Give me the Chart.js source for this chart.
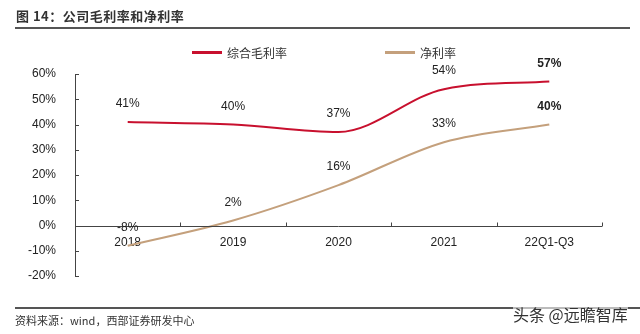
<!DOCTYPE html>
<html>
<head>
<meta charset="utf-8">
<script src="https://cdn.jsdelivr.net/npm/chart.js@4/dist/chart.umd.min.js"></script>
<style>
  body { margin: 0; background: #fff; }
  #wrap { position: relative; width: 640px; height: 334px; overflow: hidden; font-family: "Liberation Sans", Arial, sans-serif; }
  #chart { position: absolute; left: 0; top: 0; }
  .title { position: absolute; left: 16px; top: 6px; font: bold 13px "Noto Sans CJK SC", sans-serif; color: #333; letter-spacing: 0.5px; }
  .rule-top { position: absolute; left: 15px; top: 27px; width: 615px; height: 2px; background: #555; }
  .rule-bottom { position: absolute; left: 15px; top: 307px; width: 625px; height: 2px; background: #555; }
  .legend { position: absolute; top: 44px; font: 12px "Noto Sans CJK SC", sans-serif; color: #333; display: flex; align-items: center; }
  .legend i { display: inline-block; width: 30px; height: 3px; margin-right: 5px; }
  .source { position: absolute; left: 15px; top: 312px; font: 11px "Noto Sans CJK SC", sans-serif; color: #333; }
  .mark { position: absolute; left: 513px; top: 303px; font: 16px "Noto Sans CJK SC", sans-serif; color: #333; background: rgba(255,255,255,0.6); line-height: 22px; }
</style>
</head>
<body>
<div id="wrap">
  <canvas id="chart" width="640" height="334"></canvas>
  <div class="title">图 14：公司毛利率和净利率</div>
  <div class="rule-top"></div>
  <div class="legend" style="left:192px"><i style="background:#c8102e"></i>综合毛利率</div>
  <div class="legend" style="left:385px"><i style="background:#c4a07c"></i>净利率</div>
  <div class="rule-bottom"></div>
  <div class="source">资料来源：wind，西部证券研发中心</div>
  <div class="mark">头条 @远瞻智库</div>
</div>
<script>
// 数据
const categories = ['2018', '2019', '2020', '2021', '22Q1-Q3'];
const grossMargin = [41, 40, 37, 54, 57];
const netMargin = [-8, 2, 16, 33, 40];
const yMin = -20, yMax = 60, yStep = 10;

const RED = '#c8102e';
const TAN = '#c4a07c';

// 坐标轴和刻度线
const axisPlugin = {
    id: 'axes',
    afterDatasetsDraw(chart) {
        const { ctx, chartArea, scales } = chart;
        const x = scales.x, y = scales.y;
        const y0 = y.getPixelForValue(0);
        ctx.save();
        ctx.strokeStyle = '#444';
        ctx.lineWidth = 1;
        ctx.beginPath();
        ctx.moveTo(chartArea.left + 0.5, chartArea.top);
        ctx.lineTo(chartArea.left + 0.5, chartArea.bottom);
        for (let v = yMin; v <= yMax; v += yStep) {
            const py = Math.round(y.getPixelForValue(v)) + 0.5;
            ctx.moveTo(chartArea.left, py);
            ctx.lineTo(chartArea.left + 4, py);
        }
        const py0 = Math.round(y0) + 0.5;
        ctx.moveTo(chartArea.left, py0);
        ctx.lineTo(chartArea.right, py0);
        for (let i = 1; i <= categories.length; i++) {
            const px = Math.round(x.getPixelForValue(i - 0.5)) + 0.5;
            ctx.moveTo(px, py0);
            ctx.lineTo(px, py0 - 4);
        }
        ctx.stroke();
        ctx.restore();
    }
};

// 数据标签
const labelPlugin = {
    id: 'labels',
    afterDatasetsDraw(chart) {
        const { ctx } = chart;
        ctx.save();
        ctx.fillStyle = '#222';
        ctx.textAlign = 'center';
        ctx.textBaseline = 'middle';
        chart.data.datasets.forEach((ds, di) => {
            chart.getDatasetMeta(di).data.forEach((pt, i) => {
                const last = i === ds.data.length - 1;
                ctx.font = (last ? 'bold ' : '') + '12px "Liberation Sans", Arial, sans-serif';
                ctx.fillText(ds.data[i] + '%', pt.x, pt.y - 18);
            });
        });
        ctx.restore();
    }
};

new Chart(document.getElementById('chart'), {
    type: 'line',
    data: {
        labels: categories,
        datasets: [
            { label: '综合毛利率', data: grossMargin, borderColor: RED, borderWidth: 2, pointRadius: 0, tension: 0.4, cubicInterpolationMode: 'monotone' },
            { label: '净利率', data: netMargin, borderColor: TAN, borderWidth: 2, pointRadius: 0, tension: 0.4, cubicInterpolationMode: 'monotone' }
        ]
    },
    options: {
        responsive: false,
        animation: false,
        layout: { padding: { top: 74, bottom: 58, right: 38, left: 0 } },
        plugins: { legend: { display: false }, tooltip: { enabled: false } },
        scales: {
            x: {
                type: 'category',
                offset: true,
                position: { y: 0 },
                grid: { display: false },
                border: { display: false },
                ticks: { color: '#222', font: { size: 12, family: '"Liberation Sans", Arial, sans-serif' }, padding: 2, maxRotation: 0 }
            },
            y: {
                min: yMin, max: yMax,
                grid: { display: false },
                border: { display: false },
                afterFit(s) { s.width = 75; },
                ticks: {
                    stepSize: yStep,
                    color: '#222',
                    padding: 11,
                    font: { size: 12, family: '"Liberation Sans", Arial, sans-serif' },
                    callback: v => v + '%'
                }
            }
        }
    },
    plugins: [axisPlugin, labelPlugin]
});
</script>
</body>
</html>
